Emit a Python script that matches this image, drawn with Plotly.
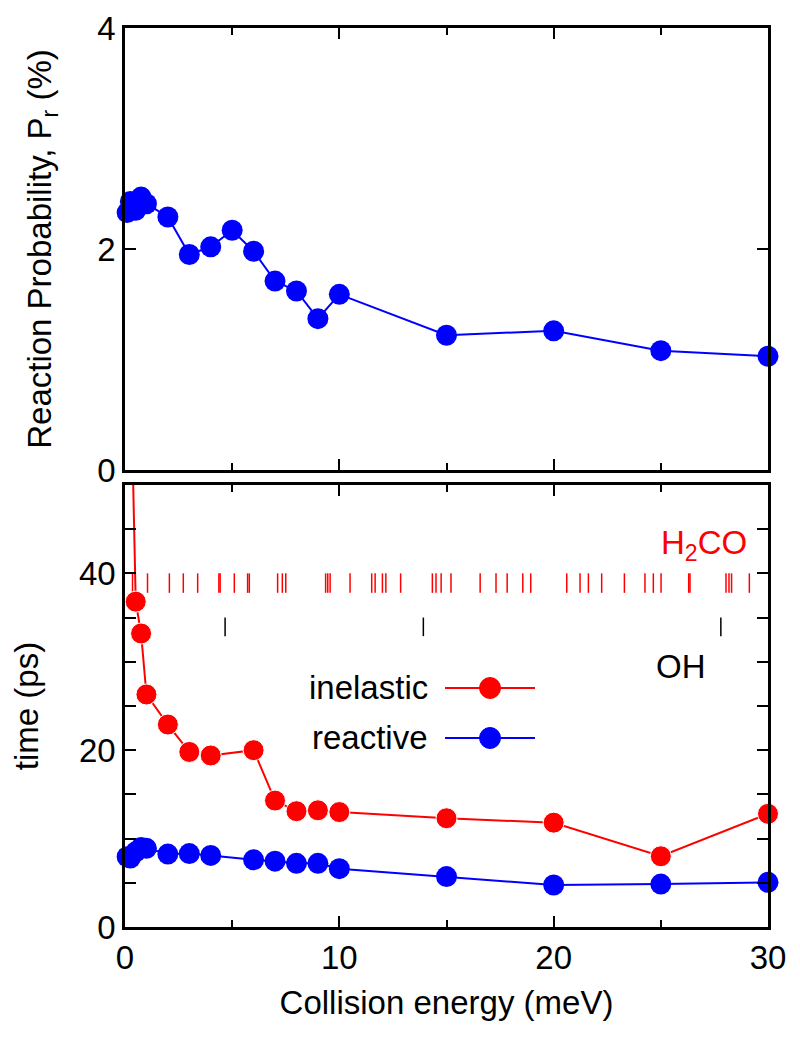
import plotly.graph_objects as go
from plotly.subplots import make_subplots

# ---- data ----
energy_top = [0.1, 0.25, 0.5, 0.75, 1, 2, 3, 4, 5, 6, 7, 8, 9, 10, 15, 20, 25, 30]
prob_top = [2.33, 2.43, 2.35, 2.47, 2.41, 2.29, 1.95, 2.02, 2.17, 1.98, 1.71, 1.62, 1.37, 1.59, 1.22, 1.26, 1.08, 1.03]

energy_inel = [0.25, 0.5, 0.75, 1, 2, 3, 4, 6, 7, 8, 9, 10, 15, 20, 25, 30]
time_inel = [65.0, 36.8, 33.2, 26.3, 22.9, 19.8, 19.4, 20.0, 14.3, 13.1, 13.2, 13.0, 12.3, 11.8, 8.0, 12.8]

energy_reac = [0.1, 0.25, 0.5, 0.75, 1, 2, 3, 4, 6, 7, 8, 9, 10, 15, 20, 25, 30]
time_reac = [7.95, 7.8, 8.5, 9.0, 8.9, 8.25, 8.3, 8.1, 7.6, 7.45, 7.2, 7.2, 6.6, 5.7, 4.75, 4.85, 5.05]

h2co_energies = [0.35, 1.05, 2.07, 2.72, 3.39, 4.38, 4.44, 5.10, 5.72, 5.80, 7.12, 7.34, 7.50,
                 9.36, 9.46, 9.57, 10.50, 11.51, 11.67, 12.01, 12.17, 12.86, 14.34, 14.51, 14.75,
                 15.21, 16.57, 17.31, 17.83, 18.56, 18.93, 20.61, 21.23, 21.62, 22.24, 23.30,
                 24.26, 24.65, 25.01, 26.30, 26.36, 28.04, 28.18, 28.30, 29.13]
h2co_span = [37.8, 40.0]
oh_energies = [4.67, 13.92, 27.8]
oh_span = [32.9, 35.0]

x_ticks = [0, 10, 20, 30]
top_y_ticks = [0, 2, 4]
bot_y_ticks = [0, 20, 40]

RED = "#ff0000"
BLUE = "#0000ff"
FONT = "Liberation Sans, Arial, sans-serif"
FS = 33

fig = make_subplots(rows=2, cols=1, shared_xaxes=False, vertical_spacing=0.0)


def segs(xs, span):
    X, Y = [], []
    for e in xs:
        X += [e, e, None]
        Y += [span[0], span[1], None]
    return X, Y


# top panel
fig.add_trace(go.Scatter(x=energy_top, y=prob_top, mode="lines+markers",
                         line=dict(color=BLUE, width=2), marker=dict(size=21, color=BLUE, opacity=1),
                         cliponaxis=False, showlegend=False), row=1, col=1)

# bottom panel spectra sticks
hx, hy = segs(h2co_energies, h2co_span)
fig.add_trace(go.Scatter(x=hx, y=hy, mode="lines", line=dict(color=RED, width=1.5),
                         showlegend=False), row=2, col=1)
ox, oy = segs(oh_energies, oh_span)
fig.add_trace(go.Scatter(x=ox, y=oy, mode="lines", line=dict(color="black", width=1.5),
                         showlegend=False), row=2, col=1)

# bottom panel curves
inel_sizes = [21 if v <= 50 else 0 for v in time_inel]
fig.add_trace(go.Scatter(x=energy_inel, y=time_inel, mode="lines+markers",
                         line=dict(color=RED, width=2),
                         marker=dict(size=inel_sizes, color=RED, opacity=1),
                         cliponaxis=False, showlegend=False), row=2, col=1)
fig.add_trace(go.Scatter(x=energy_reac, y=time_reac, mode="lines+markers",
                         line=dict(color=BLUE, width=2), marker=dict(size=21, color=BLUE, opacity=1),
                         cliponaxis=False, showlegend=False), row=2, col=1)

axis_common = dict(showline=True, linecolor="black", linewidth=2.5, mirror="ticks",
                   ticks="inside", tickcolor="black", tickwidth=2, ticklen=11,
                   showgrid=False, zeroline=False, automargin=False,
                   tickfont=dict(family=FONT, size=FS, color="black"))

fig.update_xaxes(**axis_common, range=[0, 30], tickvals=x_ticks,
                 minor=dict(tickvals=[5, 15, 25], ticks="inside", ticklen=7, tickwidth=2, tickcolor="black"))
fig.update_xaxes(showticklabels=False, row=1, col=1)
fig.update_xaxes(title=dict(text="Collision energy (meV)", font=dict(family=FONT, size=FS, color="black"),
                            standoff=16), row=2, col=1)

fig.update_yaxes(**axis_common)
fig.update_yaxes(range=[0, 4], tickvals=top_y_ticks,
                 title=dict(text="Reaction Probability, P<sub>r</sub> (%)",
                            font=dict(family=FONT, size=FS, color="black"), standoff=36),
                 row=1, col=1)
fig.update_yaxes(range=[0, 50], tickvals=bot_y_ticks,
                 minor=dict(dtick=5, ticks="inside", ticklen=11, tickwidth=2, tickcolor="black"),
                 title=dict(text="time (ps)", font=dict(family=FONT, size=FS, color="black"), standoff=36),
                 row=2, col=1)

# domains
fig.update_layout(yaxis=dict(domain=[0.5083, 1.0]), yaxis2=dict(domain=[0.0, 0.4917]))

# legend drawn manually (bottom panel, domain coordinates)
leg_rows = [("inelastic", RED, 0.5407), ("reactive", BLUE, 0.4276)]
shapes = []
annotations = []
rx, ry = 10.5 / 643, 10.5 / 442
for name, col, yy in leg_rows:
    shapes.append(dict(type="line", xref="x2 domain", yref="y2 domain", x0=0.4977, x1=0.6376,
                       y0=yy, y1=yy, line=dict(color=col, width=2)))
    shapes.append(dict(type="circle", xref="x2 domain", yref="y2 domain",
                       x0=0.5677 - rx, x1=0.5677 + rx, y0=yy - ry, y1=yy + ry,
                       fillcolor=col, line=dict(color=col, width=1)))
    annotations.append(dict(text=name, xref="x2 domain", yref="y2 domain", x=0.475, y=yy,
                            xanchor="right", yanchor="middle", showarrow=False,
                            font=dict(family=FONT, size=FS, color="black")))

annotations.append(dict(text="H<sub>2</sub>CO", xref="x2 domain", yref="y2 domain",
                        x=0.97, y=0.865, xanchor="right", yanchor="middle", showarrow=False,
                        font=dict(family=FONT, size=FS, color=RED)))
annotations.append(dict(text="OH", xref="x2 domain", yref="y2 domain",
                        x=0.865, y=0.59, xanchor="center", yanchor="middle", showarrow=False,
                        font=dict(family=FONT, size=FS, color="black")))

fig.update_layout(width=800, height=1043, margin=dict(l=117, r=40, t=20, b=124),
                  plot_bgcolor="white", paper_bgcolor="white",
                  shapes=shapes, annotations=annotations, showlegend=False,
                  font=dict(family=FONT, size=FS, color="black"))

fig.write_html("out.html")
